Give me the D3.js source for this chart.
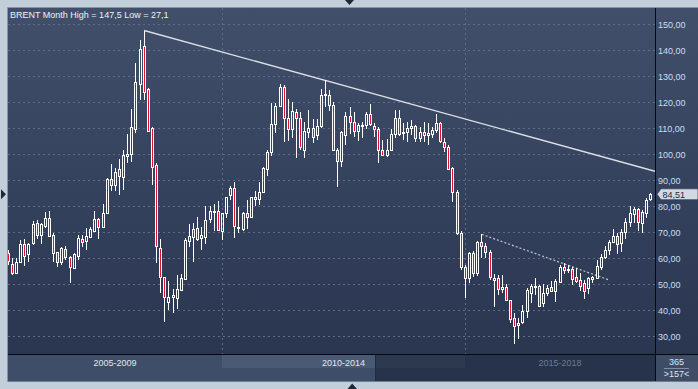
<!DOCTYPE html>
<html>
<head>
<meta charset="utf-8">
<script src="https://cdn.jsdelivr.net/npm/d3@7"></script>
<style>
  html, body { margin: 0; padding: 0; background: #c3cedb; }
  svg { display: block; }
  text { font-family: "Liberation Sans", Arial, sans-serif; font-size: 9px; }
</style>
</head>
<body>
<div id="chart"></div>
<script>
// Brent monthly candles, first visible bar Oct 2005, last Oct 2018
var firstMonth = "2005-10";

var priceOpen = [
  61.8, 57.6, 54.3,
  58.6, 65.3, 61.4, 65.6, 73.3, 68.8, 72.3, 75.3, 68.7, 62.2, 58.3, 63.3,
  60.3, 56.3, 60.9, 67.4, 66.7, 68.2, 70.5, 75.0, 72.0, 77.2, 90.3, 88.1,
  94.1, 91.0, 99.2, 99.9, 109.7, 126.9, 141.5, 124.9, 109.9, 95.8, 63.7, 52.6,
  43.2, 45.1, 44.7, 47.7, 51.9, 66.7, 68.2, 71.4, 67.6, 68.2, 74.9, 77.6,
  78.1, 70.5, 77.2, 84.2, 86.8, 71.4, 71.0, 77.4, 75.9, 83.6, 82.6, 85.5,
  94.1, 100.7, 111.5, 118.5, 125.9, 113.7, 109.5, 116.3, 114.0, 101.5, 108.6, 109.9,
  107.3, 110.8, 122.7, 122.7, 118.8, 101.5, 97.3, 107.5, 114.6, 112.4, 108.7, 110.8,
  111.1, 115.3, 110.8, 109.5, 101.5, 99.5, 101.5, 107.6, 114.0, 108.0, 108.3, 109.9,
  110.8, 106.0, 108.6, 107.3, 107.8, 109.3, 112.0, 104.7, 102.6, 94.5, 85.3, 69.5,
  56.4, 52.2, 61.8, 54.3, 66.3, 64.7, 62.4, 51.5, 52.4, 48.0, 48.7, 43.8,
  36.8, 34.2, 35.5, 39.6, 46.7, 49.0, 49.2, 42.8, 46.4, 49.0, 47.4, 50.9,
  56.7, 55.4, 55.7, 52.8, 51.5, 50.5, 48.6, 51.8, 52.2, 56.4, 60.5, 63.1,
  66.3, 68.5, 65.6, 70.1, 74.0, 76.8, 78.8, 73.6, 77.4, 82.6
];
var priceHigh = [
  63.1, 60.1, 59.9,
  66.9, 67.2, 65.9, 74.3, 74.6, 73.6, 77.7, 78.1, 69.5, 62.4, 64.3, 64.6,
  60.8, 61.8, 68.8, 68.8, 71.4, 71.8, 78.1, 75.5, 80.8, 90.7, 96.2, 94.5,
  98.0, 101.5, 107.7, 117.3, 135.1, 143.8, 147.5, 125.5, 110.5, 96.5, 67.3, 52.8,
  51.3, 48.0, 53.5, 53.8, 67.6, 73.1, 73.3, 75.9, 72.0, 80.0, 80.0, 80.7,
  81.9, 77.5, 83.6, 87.7, 89.1, 79.7, 77.8, 82.3, 83.6, 85.9, 89.1, 95.0,
  101.5, 119.5, 119.5, 126.8, 126.5, 121.0, 120.1, 117.5, 116.3, 112.2, 116.9, 113.3,
  113.5, 124.9, 128.3, 124.6, 120.0, 102.5, 109.0, 116.3, 117.9, 116.0, 111.8, 112.5,
  116.0, 119.2, 111.8, 110.5, 105.5, 105.6, 109.5, 117.0, 117.0, 112.0, 112.5, 113.0,
  111.0, 110.5, 112.4, 111.8, 110.5, 115.4, 112.4, 106.0, 103.5, 95.0, 86.0, 70.2,
  57.5, 62.4, 62.7, 66.7, 69.1, 65.6, 63.0, 54.0, 53.5, 53.5, 50.0, 44.0,
  38.7, 37.0, 42.0, 48.4, 50.0, 52.4, 49.5, 50.0, 49.5, 51.0, 52.0, 57.3,
  58.0, 57.3, 56.4, 56.2, 54.1, 51.5, 52.8, 53.2, 59.2, 61.7, 64.6, 67.0,
  71.0, 69.8, 71.0, 75.5, 80.0, 79.8, 79.1, 78.5, 83.0, 85.1
];
var priceLow = [
  57.3, 53.5, 53.8,
  58.0, 56.9, 58.6, 65.0, 67.2, 65.4, 71.4, 68.0, 58.6, 56.7, 57.3, 59.2,
  50.3, 55.7, 59.2, 64.1, 63.1, 67.6, 70.1, 67.4, 71.8, 77.0, 85.9, 85.9,
  84.2, 86.2, 96.4, 97.0, 108.0, 120.8, 120.8, 108.6, 88.1, 58.2, 46.4, 35.5,
  40.0, 38.7, 40.4, 47.3, 51.5, 64.3, 58.6, 66.7, 63.1, 65.3, 73.3, 70.4,
  70.4, 66.9, 75.3, 82.3, 67.6, 69.5, 70.4, 71.0, 75.3, 80.0, 80.4, 85.0,
  91.5, 99.2, 108.0, 118.0, 104.7, 105.0, 106.0, 98.5, 101.5, 98.3, 106.0, 104.2,
  105.5, 110.0, 118.2, 116.5, 101.0, 87.4, 95.1, 103.5, 107.8, 106.6, 105.0, 106.2,
  109.5, 110.6, 106.5, 96.4, 99.2, 99.0, 101.0, 106.0, 106.8, 105.5, 104.7, 107.2,
  104.6, 104.5, 104.5, 103.5, 106.0, 108.0, 104.3, 100.6, 93.9, 81.7, 69.0, 55.4,
  44.6, 50.5, 52.8, 53.1, 60.1, 59.9, 51.5, 41.3, 45.8, 46.5, 43.5, 35.1,
  27.1, 29.0, 34.8, 37.0, 42.6, 45.8, 41.0, 41.2, 45.3, 46.8, 43.0, 50.5,
  53.8, 54.3, 49.5, 50.4, 47.3, 44.2, 46.0, 50.2, 52.0, 55.5, 59.8, 61.0,
  65.9, 61.5, 62.5, 67.5, 72.0, 73.3, 70.5, 69.7, 75.3, 82.0
];
var priceClose = [
  58.8, 54.3, 58.3,
  65.4, 60.8, 65.3, 73.1, 68.8, 73.1, 75.3, 68.6, 61.8, 58.3, 63.7, 60.3,
  56.7, 61.4, 67.6, 66.3, 68.5, 71.0, 74.9, 72.0, 77.2, 90.3, 88.1, 93.2,
  91.5, 99.6, 100.0, 110.3, 127.6, 140.3, 123.7, 109.0, 94.9, 64.7, 52.8, 44.9,
  45.1, 45.8, 48.1, 52.2, 66.9, 68.5, 71.2, 67.2, 68.8, 74.6, 78.1, 78.1,
  70.8, 77.2, 83.3, 86.8, 72.3, 72.0, 77.4, 75.9, 83.3, 82.6, 85.3, 94.5,
  100.9, 111.5, 118.5, 125.9, 114.0, 109.5, 116.4, 114.0, 102.6, 108.8, 109.9, 106.7,
  110.8, 122.7, 123.0, 118.8, 101.5, 97.3, 108.3, 114.6, 112.4, 108.7, 111.2, 111.1,
  115.3, 111.4, 109.5, 101.5, 99.5, 101.5, 107.6, 114.0, 107.8, 108.6, 109.9, 110.8,
  106.0, 108.6, 107.3, 108.0, 109.3, 111.8, 105.1, 102.6, 94.2, 85.3, 69.5, 56.7,
  52.5, 61.8, 54.3, 66.3, 64.7, 62.4, 52.8, 52.4, 48.0, 49.0, 43.8, 36.4,
  34.0, 35.1, 39.6, 47.7, 49.2, 49.3, 41.5, 46.4, 48.3, 47.4, 51.2, 56.4,
  55.3, 55.9, 51.8, 51.3, 49.2, 47.3, 52.2, 52.6, 56.9, 60.5, 63.1, 66.3,
  68.5, 65.3, 70.1, 74.0, 77.2, 78.8, 74.0, 77.6, 82.3, 84.51
];

var yTicks = [30, 40, 50, 60, 70, 80, 90, 100, 110, 120, 130, 140, 150];
var periods = ["2005-2009", "2010-2014", "2015-2018"];
var gridMonths = ["2010-02", "2015-01"];
var trendLong = [["2008-07", 147.5], ["2012-03", 128.3]];
var trendShort = [["2015-05", 69.1], ["2017-12", 51.5]];
var counters = ["365", ">157<"];

// layout
var W = 698, H = 389;
var plotLeft = 8, plotRight = 655, plotTop = 8, plotBottom = 354, panelBottom = 381;
var thumbEnd = 375;

var parse = d3.utcParse("%Y-%m"), fmt = d3.utcFormat("%Y-%m");
var start = parse(firstMonth);
var months = d3.utcMonth.range(start, d3.utcMonth.offset(start, priceClose.length)).map(fmt);
var comma = function(f) { return function(v) { return d3.format(f)(v).replace(".", ","); }; };

var x = d3.scaleBand().domain(months).range([6.29, 652.66]);
var cx = function(m) { return x(m) + x.bandwidth() / 2; };
var y = d3.scaleLinear().domain([30, 150]).range([336, 24]);

var svg = d3.select("#chart").append("svg")
  .attr("width", W).attr("height", H);

var defs = svg.append("defs");
var grad = defs.append("linearGradient").attr("id", "bg")
  .attr("x1", 0).attr("y1", 0).attr("x2", 0).attr("y2", 1);
grad.append("stop").attr("offset", "0%").attr("stop-color", "#414f6b");
grad.append("stop").attr("offset", "100%").attr("stop-color", "#2a3650");
defs.append("clipPath").attr("id", "plotclip").append("rect")
  .attr("x", plotLeft).attr("y", plotTop)
  .attr("width", plotRight - plotLeft).attr("height", plotBottom - plotTop);

// outer frame + chart background
svg.append("rect").attr("width", W).attr("height", H).attr("fill", "#c3cedb");
svg.append("rect").attr("x", plotLeft).attr("y", plotTop)
  .attr("width", W - plotLeft).attr("height", plotBottom - plotTop)
  .attr("fill", "url(#bg)");
svg.append("path").attr("d", `M${plotLeft - 0.5},${panelBottom + 0.5}V${plotTop - 0.5}H${W}`)
  .attr("fill", "none").attr("stroke", "#8593a6");
svg.append("line").attr("x1", plotLeft - 0.5).attr("x2", W)
  .attr("y1", panelBottom + 0.5).attr("y2", panelBottom + 0.5)
  .attr("stroke", "#6f7d90");

var plot = svg.append("g").attr("clip-path", "url(#plotclip)");

// grid
plot.append("g").selectAll("line").data(yTicks).enter().append("line")
  .attr("x1", plotLeft).attr("x2", plotRight)
  .attr("y1", d => Math.round(y(d)) + 0.5).attr("y2", d => Math.round(y(d)) + 0.5)
  .attr("stroke", "#5d6c87").attr("stroke-dasharray", "2,3");
plot.append("g").selectAll("line").data(gridMonths).enter().append("line")
  .attr("x1", d => Math.floor(cx(d)) + 0.5).attr("x2", d => Math.floor(cx(d)) + 0.5)
  .attr("y1", plotTop).attr("y2", plotBottom)
  .attr("stroke", "#5d6c87").attr("stroke-dasharray", "2,3");

// trend lines
function trendPath(pts, extend) {
  var x1 = cx(pts[0][0]), y1 = y(pts[0][1]);
  var x2 = cx(pts[1][0]), y2 = y(pts[1][1]);
  if (extend) {
    var s = (y2 - y1) / (x2 - x1);
    y2 = y1 + (plotRight - x1) * s;
    x2 = plotRight;
  }
  return `M${x1},${y1}L${x2},${y2}`;
}
plot.append("path").attr("d", trendPath(trendLong, true))
  .attr("fill", "none").attr("stroke", "#dde0e6").attr("stroke-width", 1.3);
plot.append("path").attr("d", trendPath(trendShort, false))
  .attr("fill", "none").attr("stroke", "#c4c8d0").attr("stroke-width", 1.2)
  .attr("stroke-dasharray", "2,2");

// candles
var bars = months.map(function(m, i) {
  return { m: m, o: priceOpen[i], h: priceHigh[i], l: priceLow[i], c: priceClose[i] };
});
var candle = plot.append("g").selectAll("g").data(bars).enter().append("g")
  .attr("transform", d => `translate(${Math.floor(cx(d.m))},0)`);

candle.each(function(d) {
  var g = d3.select(this);
  var t = Math.round(y(Math.max(d.o, d.c)));
  var b = Math.round(y(Math.min(d.o, d.c)));
  if (b - t < 1) b = t + 1;
  var hi = Math.round(y(d.h)), lo = Math.round(y(d.l));
  g.append("path")
    .attr("d", `M0.5,${hi}V${t}M0.5,${b + 1}V${Math.max(lo, b + 1)}`)
    .attr("stroke", "#ffffff");
  g.append("rect")
    .attr("x", -0.5).attr("y", t + 0.5).attr("width", 2).attr("height", b - t)
    .attr("fill", d.c < d.o ? "#e3112f" : "none")
    .attr("stroke", "#ffffff");
});

// separators
svg.append("line").attr("x1", plotRight + 0.5).attr("x2", plotRight + 0.5)
  .attr("y1", plotTop).attr("y2", panelBottom)
  .attr("stroke", "#05080d");
svg.append("line").attr("x1", plotLeft).attr("x2", W)
  .attr("y1", plotBottom + 0.5).attr("y2", plotBottom + 0.5)
  .attr("stroke", "#05080d");

// right axis
var yAxis = svg.append("g").attr("transform", `translate(${plotRight},0)`)
  .call(d3.axisRight(y).tickValues(yTicks).tickSize(0).tickPadding(3).tickFormat(comma(".2f")));
yAxis.select(".domain").remove();
yAxis.selectAll("text").attr("fill", "#cddff2").attr("dy", "0.42em")
  .style("font-family", "'Liberation Sans', Arial, sans-serif").style("font-size", "9px");

// last price label
var last = priceClose[priceClose.length - 1];
var ly = y(last);
svg.append("path")
  .attr("d", `M657,${ly}L661,${ly - 5.5}H${W}V${ly + 5.5}H661Z`)
  .attr("fill", "#d2d9e1").attr("stroke", "#33415a").attr("stroke-width", 0.8);
svg.append("text").attr("x", 662.5).attr("y", ly + 3.5).attr("fill", "#1b2940")
  .text(comma(".2f")(last));

// title
svg.append("text").attr("x", 10).attr("y", 18).attr("fill", "#eef2f7")
  .text(`BRENT Month High = ${comma("")(d3.max(priceHigh))} Low = ${comma("")(d3.min(priceLow))}`);

// bottom period panel
var bounds = [plotLeft, Math.floor(cx(gridMonths[0])), Math.floor(cx(gridMonths[1])), plotRight];
var panel = svg.append("g");
panel.append("rect").attr("x", plotLeft).attr("y", plotBottom + 1).attr("width", thumbEnd - plotLeft)
  .attr("height", panelBottom - plotBottom - 1).attr("fill", "#3f4e68");
panel.append("rect").attr("x", thumbEnd).attr("y", plotBottom + 1).attr("width", plotRight - thumbEnd)
  .attr("height", panelBottom - plotBottom - 1).attr("fill", "#26334a");
panel.append("rect").attr("x", bounds[1]).attr("y", plotBottom + 1).attr("width", thumbEnd - bounds[1])
  .attr("height", 13).attr("fill", "#4b5a74");
panel.append("rect").attr("x", thumbEnd).attr("y", plotBottom + 1).attr("width", bounds[2] - thumbEnd)
  .attr("height", 13).attr("fill", "#2c394f");
panel.append("line").attr("x1", thumbEnd + 0.5).attr("x2", thumbEnd + 0.5)
  .attr("y1", plotBottom + 1).attr("y2", panelBottom).attr("stroke", "#222c3c");
panel.selectAll("text.period").data(periods).enter().append("text")
  .attr("class", "period")
  .attr("x", (d, i) => (bounds[i] + bounds[i + 1]) / 2)
  .attr("y", 366).attr("text-anchor", "middle")
  .attr("fill", (d, i) => i < 2 ? "#e1e8f1" : "#6c7b92")
  .text(d => d);

// counters box
panel.append("rect").attr("x", plotRight + 1).attr("y", plotBottom + 1).attr("width", W - plotRight - 1)
  .attr("height", panelBottom - plotBottom - 1).attr("fill", "#3e4c66");
panel.append("line").attr("x1", 664).attr("x2", 689).attr("y1", 368.5).attr("y2", 368.5)
  .attr("stroke", "#7f8ea3");
panel.selectAll("text.count").data(counters).enter().append("text")
  .attr("class", "count").attr("x", 676.5).attr("y", (d, i) => i ? 376.5 : 364.5)
  .attr("text-anchor", "middle").attr("fill", "#dfe7f1").text(d => d);

// scroll markers
svg.append("path").attr("d", "M345,0H354L349.5,5Z").attr("fill", "#1d2939");
svg.append("path").attr("d", "M347.5,389H357L352.2,383.5Z").attr("fill", "#1d2939");
svg.append("path").attr("d", `M1,${ly - 5}V${ly + 5}L6,${ly}Z`).attr("fill", "#1d2939");
</script>
</body>
</html>
